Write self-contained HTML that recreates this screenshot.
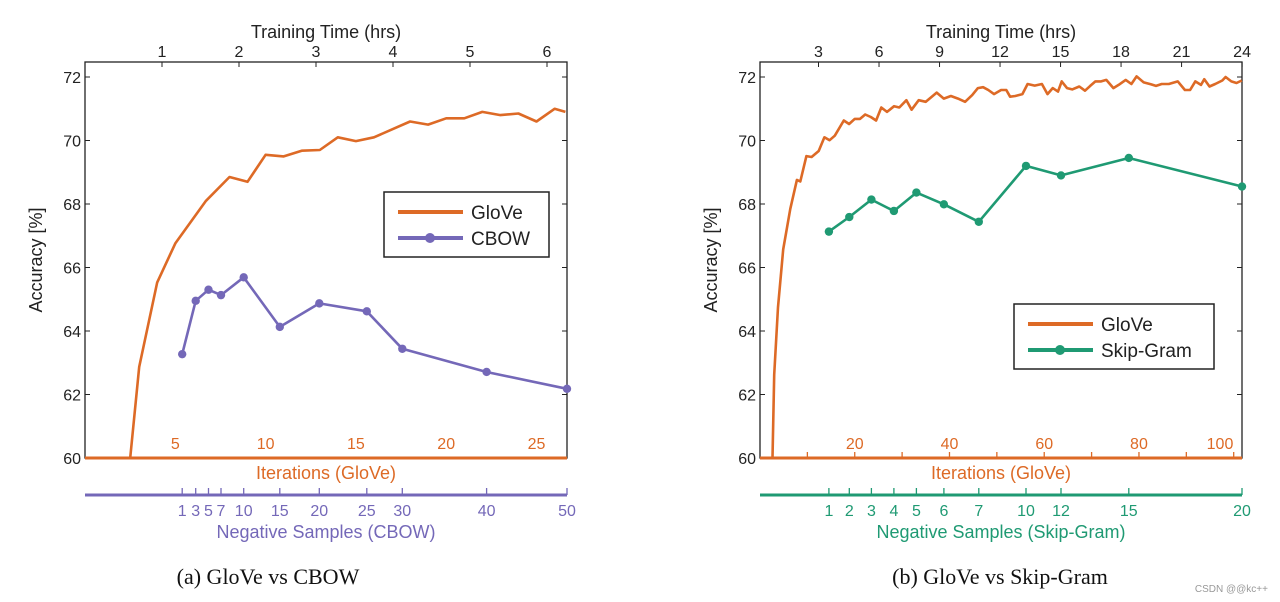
<!DOCTYPE html>
<html><head><meta charset="utf-8"><style>
html,body{margin:0;padding:0;background:#fff;width:1280px;height:602px;overflow:hidden}
svg{display:block}
text{font-family:"Liberation Sans",sans-serif}
text.cap{font-family:"Liberation Serif",serif}
</style></head><body>
<svg id="s" width="1280" height="602" viewBox="0 0 1280 602" xmlns="http://www.w3.org/2000/svg"></svg>
<script>
// ---- Data: left chart (GloVe vs CBOW) ----
const leftGloveIter = [2.5,3,4,5,6.7,8,9,10,11,12,13,14,15,16,18,19,20,21,22,23,24,25,26,26.6];
const leftGloveAcc = [60,62.87,65.53,66.76,68.1,68.85,68.7,69.55,69.5,69.68,69.7,70.1,69.98,70.1,70.6,70.5,70.7,70.7,70.9,70.8,70.85,70.6,71.0,70.9];
const cbowNeg = [1,3,5,7,10,15,20,25,30,40,50];
const cbowAcc = [63.27,64.95,65.3,65.13,65.69,64.13,64.87,64.62,63.44,62.71,62.18];
const leftIterTicks = [5,10,15,20,25];
const leftHrsTicks = [1,2,3,4,5,6];
// ---- Data: right chart (GloVe vs Skip-Gram) ----
const rightGloveIter = [2.64,3.0,3.8,4.9,6.4,7.8,8.5,9.8,10.9,12.4,13.6,14.7,15.8,17.7,18.8,20.0,21.1,22.2,23.4,24.5,25.6,26.8,28.3,29.4,30.9,32.0,33.5,35.0,37.3,38.8,40.3,41.8,43.3,44.8,46.0,47.1,48.2,49.4,50.9,52.0,52.8,53.9,55.4,56.5,58.0,59.5,60.7,61.8,62.9,63.7,64.8,65.9,67.4,68.6,69.7,70.8,72.0,73.1,74.6,75.7,77.2,78.4,79.5,81.0,82.5,83.6,84.8,86.3,88.2,89.7,90.8,91.9,93.1,93.8,94.9,96.1,97.6,98.3,99.5,100.6,101.7];
const rightGloveAcc = [60,62.62,64.75,66.57,67.85,68.76,68.71,69.51,69.48,69.67,70.10,70.01,70.15,70.63,70.52,70.68,70.68,70.82,70.74,70.63,71.04,70.90,71.08,71.04,71.27,70.97,71.27,71.22,71.51,71.32,71.40,71.32,71.22,71.43,71.65,71.68,71.59,71.46,71.59,71.59,71.38,71.40,71.46,71.78,71.73,71.78,71.46,71.65,71.54,71.86,71.65,71.61,71.70,71.57,71.72,71.86,71.86,71.91,71.65,71.75,71.91,71.78,72.02,71.83,71.77,71.72,71.78,71.78,71.86,71.59,71.59,71.86,71.75,71.93,71.70,71.78,71.89,72.0,71.86,71.81,71.89];
const sgNeg = [1,2,3,4,5,6,7,10,12,15,20];
const sgAcc = [67.13,67.59,68.14,67.78,68.36,67.99,67.44,69.2,68.9,69.45,68.55];
const rightIterTicks = [20,40,60,80,100];
const rightHrsTicks = [3,6,9,12,15,18,21,24];
const yTicks = [60,62,64,66,68,70,72];

const NS="http://www.w3.org/2000/svg";
const svg=document.getElementById('s');
function el(tag,attrs,parent,txt){const e=document.createElementNS(NS,tag);for(const k in attrs)e.setAttribute(k,attrs[k]);if(txt!==undefined)e.textContent=txt;(parent||svg).appendChild(e);return e;}
const ORANGE="#dd6a26", PURPLE="#7468b8", GREEN="#1f9a73";
const yOf=v=>458-(v-60)*31.75;
function interp(v,keys,pos){for(let i=0;i<keys.length-1;i++){if(v<=keys[i+1]){const t=(v-keys[i])/(keys[i+1]-keys[i]);return pos[i]+t*(pos[i+1]-pos[i]);}}return pos[pos.length-1];}

function chart(o){
  const g=el('g',{});
  
  
  const L=o.L,R=o.R,T=62,B=458;
  const box=el('rect',{x:L,y:T,width:R-L,height:B-T,fill:'none',stroke:'#222','stroke-width':1.3},g);
  
  yTicks.forEach(v=>{const y=yOf(v);
    el('line',{x1:L,x2:L+5,y1:y,y2:y,stroke:'#222'},g);el('line',{x1:R,x2:R-5,y1:y,y2:y,stroke:'#222'},g);
    const t=el('text',{x:L-4,y:y+6,'text-anchor':'end','font-size':16,fill:'#222'},g,String(v));
    });
  const yt=el('text',{transform:`translate(${o.yTitleX},260) rotate(-90)`,'text-anchor':'middle','font-size':18,fill:'#222'},g,'Accuracy [%]');
  
  o.hrsTicks.forEach(h=>{const x=o.hx(h);
    el('line',{x1:x,x2:x,y1:T,y2:T+5,stroke:'#222'},g);
    const t=el('text',{x:x,y:57,'text-anchor':'middle','font-size':16,fill:'#222'},g,String(h));
    });
  const tt=el('text',{x:(L+R)/2,y:38,'text-anchor':'middle','font-size':18,fill:'#222'},g,'Training Time (hrs)');
  
  o.iterMinor.forEach(i=>{const x=o.ix(i);el('line',{x1:x,x2:x,y1:B,y2:B-6,stroke:ORANGE,'stroke-width':1.3},g);});
  o.iterTicks.forEach(i=>{const x=o.ix(i);
    const t=el('text',{x:Math.min(x,R-22),y:449,'text-anchor':'middle','font-size':16,fill:ORANGE},g,String(i));
    });
  el('line',{x1:L,x2:R,y1:B,y2:B,stroke:ORANGE,'stroke-width':3},g);
  const it=el('text',{x:(L+R)/2,y:479,'text-anchor':'middle','font-size':18,fill:ORANGE},g,'Iterations (GloVe)');
  
  el('line',{x1:L,x2:R,y1:o.negY,y2:o.negY,stroke:o.col,'stroke-width':3},g);
  o.negKeys.forEach(n=>{const x=o.nx(n);el('line',{x1:x,x2:x,y1:o.negY,y2:o.negY-7,stroke:o.col,'stroke-width':1.3},g);
    const t=el('text',{x:x,y:o.negY+21,'text-anchor':'middle','font-size':16,fill:o.col},g,String(n));
    });
  const nt=el('text',{x:(L+R)/2,y:o.negY+43,'text-anchor':'middle','font-size':18,fill:o.col},g,o.negTitle);
  
  const gp=o.gIter.map((it,i)=>o.ix(it).toFixed(1)+','+yOf(o.gAcc[i]).toFixed(1)).join(' ');
  const gl=el('polyline',{points:gp,fill:'none',stroke:ORANGE,'stroke-width':2.6,'stroke-linejoin':'round'},g);
  
  const op=o.oNeg.map((n,i)=>o.nx(n).toFixed(1)+','+yOf(o.oAcc[i]).toFixed(1)).join(' ');
  const ol=el('polyline',{points:op,fill:'none',stroke:o.col,'stroke-width':2.6,'stroke-linejoin':'round'},g);
  
  o.oNeg.forEach((n,i)=>{const c=el('circle',{cx:o.nx(n),cy:yOf(o.oAcc[i]),r:4.2,fill:o.col},g);
    });
  const lg=el('g',{},g);
  const lx=o.leg[0],ly=o.leg[1],lw=o.leg[2];
  el('rect',{x:lx,y:ly,width:lw,height:65,fill:'#fff',stroke:'#222','stroke-width':1.5},lg);
  el('line',{x1:lx+14,x2:lx+79,y1:ly+20,y2:ly+20,stroke:ORANGE,'stroke-width':4},lg);
  el('text',{x:lx+87,y:ly+27,'font-size':19,fill:'#222'},lg,'GloVe');
  el('line',{x1:lx+14,x2:lx+79,y1:ly+46,y2:ly+46,stroke:o.col,'stroke-width':4},lg);
  el('circle',{cx:lx+46,cy:ly+46,r:5,fill:o.col},lg);
  el('text',{x:lx+87,y:ly+53,'font-size':19,fill:'#222'},lg,o.oLabel);
  const cap=el('text',{x:o.capX,y:584,'text-anchor':'middle','font-size':22,fill:'#111','class':'cap'},g,o.caption);
  
}
const lNegPos=[182.2,195.7,208.5,221,243.7,279.8,319.3,366.8,402.3,486.6,567];
chart({name:'chart-glove-vs-cbow',L:85,R:567,yTitleX:42,hrsTicks:leftHrsTicks,hx:h=>162+77*(h-1),
  iterTicks:leftIterTicks,iterMinor:[],ix:i=>85+18.06*i,negY:495,col:PURPLE,negKeys:cbowNeg,
  nx:n=>interp(n,cbowNeg,lNegPos),negTitle:'Negative Samples (CBOW)',gIter:leftGloveIter,gAcc:leftGloveAcc,
  oNeg:cbowNeg,oAcc:cbowAcc,oName:'cbow',oLabel:'CBOW',leg:[384,192,165],capX:268,caption:'(a)  GloVe vs CBOW'});
const rNegPos=[828.9,849.3,871.4,893.9,916.4,943.9,978.8,1026,1061,1128.8,1242];
chart({name:'chart-glove-vs-skipgram',L:760,R:1242,yTitleX:717,hrsTicks:rightHrsTicks,hx:h=>758+20.17*h,
  iterTicks:rightIterTicks,iterMinor:[10,20,30,40,50,60,70,80,90,100],ix:i=>760+4.737*i,negY:495,col:GREEN,negKeys:sgNeg,
  nx:n=>interp(n,sgNeg,rNegPos),negTitle:'Negative Samples (Skip-Gram)',gIter:rightGloveIter,gAcc:rightGloveAcc,
  oNeg:sgNeg,oAcc:sgAcc,oName:'skip-gram',oLabel:'Skip-Gram',leg:[1014,304,200],capX:1000,caption:'(b)  GloVe vs Skip-Gram'});
const wm=el('text',{x:1268,y:592,'text-anchor':'end','font-size':10,fill:'#999'},svg,'CSDN @@kc++');

</script>
</body></html>
